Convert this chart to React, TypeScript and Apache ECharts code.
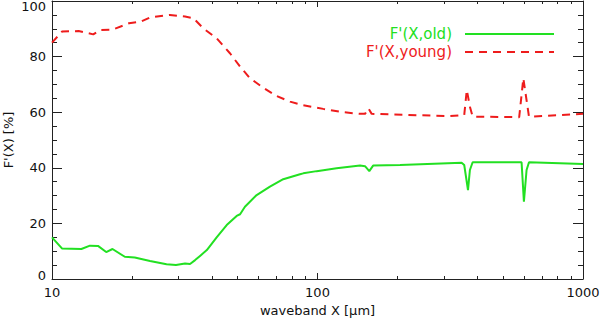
import React, { useEffect, useRef } from "react";
import * as echarts from "echarts";

const oldX = [10, 10.9, 12.9, 13.9, 14.9, 16.0, 16.9, 18.8, 20.5, 23.4, 27.0, 29.3, 31.7, 33.1, 34.6, 36.1, 38.3, 41.7, 45.5, 49.6, 51.1, 53.3, 59.0, 66.2, 74.3, 85.9, 88.4, 99.3, 118, 144.6, 151, 156.7, 162, 204.6, 349, 357, 368.8, 375, 384, 587, 599, 613, 626, 1000];
const oldY = [15.0, 11.0, 10.8, 12.0, 11.9, 9.7, 10.8, 8.0, 7.7, 6.5, 5.3, 5.0, 5.6, 5.4, 6.8, 8.3, 10.4, 15.0, 19.4, 22.7, 23.3, 26.0, 30.2, 33.2, 35.9, 37.7, 38.0, 38.8, 39.8, 40.8, 40.6, 38.8, 40.8, 41.0, 41.8, 41.0, 32.0, 39.2, 42.0, 42.0, 27.8, 39.2, 42.0, 41.4];

const youngX = [10, 10.9, 12.6, 14.3, 15.2, 16.9, 19.5, 21.5, 23.4, 27.8, 31.7, 34.1, 37.1, 41.7, 46.8, 51.1, 55.7, 62.5, 70.2, 78.8, 88.4, 105.1, 125, 144.6, 151, 155.4, 160, 315, 357, 365, 375, 384, 575, 596, 626, 1000];
const youngY = [85.0, 89.0, 89.2, 88.0, 89.6, 89.7, 92.0, 92.5, 94.1, 95.0, 94.4, 93.8, 90.2, 86.6, 81.2, 76.4, 72.2, 68.8, 65.8, 63.8, 62.5, 61.2, 60.0, 59.4, 59.4, 61.4, 59.4, 58.6, 59.0, 68.0, 62.0, 58.4, 58.2, 72.2, 58.4, 59.4];

const xMinorTicks = [20, 30, 40, 50, 60, 70, 80, 90, 200, 300, 400, 500, 600, 700, 800, 900];
const seriesNames = ["F'(X,old)", "F'(X,young)"];
const xTitle = "waveband X [μm]";
const yTitle = "F'(X) [%]";

const GREEN = "#22e022";
const RED = "#ee1c1c";
const AXIS = "#222222";
const FONT = "DejaVu Sans";

export default function App() {
  const ref = useRef<HTMLDivElement>(null);
  useEffect(() => {
    if (!ref.current) return;
    const chart = echarts.init(ref.current, null, { renderer: "svg" });
    const zip = (xs: number[], ys: number[]) => xs.map((x, i) => [x, ys[i]]);
    const minorLog = xMinorTicks.map((v) => Math.log10(v));
    const axisLine = { show: true, onZero: false, lineStyle: { color: AXIS, width: 1 } };
    const minorXAxis = (position: string) => ({
      type: "value",
      position,
      min: 1,
      max: 3,
      axisLine: { show: true, onZero: false, lineStyle: { color: AXIS, opacity: 0 } },
      axisLabel: { show: false },
      splitLine: { show: false },
      axisTick: { show: true, inside: true, length: 3, customValues: minorLog, lineStyle: { color: AXIS, width: 1 } },
    });
    chart.setOption({
      animation: false,
      grid: { left: 52, right: 17, top: 1, bottom: 40, containLabel: false, outerBoundsMode: "none" },
      xAxis: [
        {
          type: "log",
          logBase: 10,
          min: 10,
          max: 1000,
          position: "bottom",
          name: xTitle,
          nameLocation: "middle",
          nameGap: 24,
          nameTextStyle: { color: "#111", fontSize: 13, fontFamily: FONT },
          axisLine,
          axisTick: { show: true, inside: true, length: 6, lineStyle: { color: AXIS } },
          axisLabel: { color: "#111", fontSize: 13, fontFamily: FONT, margin: 7, formatter: (v: number) => String(Math.round(v)) },
          splitLine: { show: false },
        },
        {
          type: "log",
          logBase: 10,
          min: 10,
          max: 1000,
          position: "top",
          axisLine,
          axisTick: { show: true, inside: true, length: 6, lineStyle: { color: AXIS } },
          axisLabel: { show: false },
          splitLine: { show: false },
        },
        minorXAxis("bottom"),
        minorXAxis("top"),
      ],
      yAxis: [
        {
          type: "value",
          min: 0,
          max: 100,
          interval: 20,
          position: "left",
          name: yTitle,
          nameLocation: "middle",
          nameGap: 37,
          nameMoveOverlap: false,
          nameTextStyle: { color: "#111", fontSize: 13, fontFamily: FONT },
          axisLine,
          axisTick: { show: true, inside: true, length: 10, lineStyle: { color: AXIS } },
          minorTick: { show: true, splitNumber: 4, length: 5, lineStyle: { color: AXIS } },
          axisLabel: {
            color: "#111",
            fontSize: 13,
            fontFamily: FONT,
            margin: 6,
            formatter: (v: number) => (v === 100 ? "{t|100}" : v === 0 ? "{b|0}" : String(v)),
            rich: {
              t: { color: "#111", fontSize: 13, fontFamily: FONT, padding: [10, 0, 0, 0] },
              b: { color: "#111", fontSize: 13, fontFamily: FONT, padding: [0, 0, 8, 0] },
            },
          },
          splitLine: { show: false },
        },
        {
          type: "value",
          min: 0,
          max: 100,
          interval: 20,
          position: "right",
          axisLine,
          axisTick: { show: true, inside: true, length: 10, lineStyle: { color: AXIS } },
          minorTick: { show: true, splitNumber: 4, length: 5, lineStyle: { color: AXIS } },
          axisLabel: { show: false },
          splitLine: { show: false },
        },
      ],
      series: [
        {
          name: seriesNames[0],
          type: "line",
          xAxisIndex: 0,
          yAxisIndex: 0,
          showSymbol: false,
          symbol: "none",
          data: zip(oldX, oldY),
          lineStyle: { color: GREEN, width: 2 },
          itemStyle: { color: GREEN },
        },
        {
          name: seriesNames[1],
          type: "line",
          xAxisIndex: 0,
          yAxisIndex: 0,
          showSymbol: false,
          symbol: "none",
          data: zip(youngX, youngY),
          lineStyle: { color: RED, width: 2, type: [8, 6] },
          itemStyle: { color: RED },
        },
      ],
      graphic: [
        {
          type: "text",
          x: 452,
          y: 34,
          style: { text: seriesNames[0], fill: GREEN, fontSize: 15, fontFamily: FONT, align: "right", verticalAlign: "middle" },
        },
        {
          type: "text",
          x: 452,
          y: 52,
          style: { text: seriesNames[1], fill: RED, fontSize: 15, fontFamily: FONT, align: "right", verticalAlign: "middle" },
        },
        {
          type: "line",
          shape: { x1: 465, y1: 34, x2: 554, y2: 34 },
          style: { stroke: GREEN, lineWidth: 2 },
        },
        {
          type: "line",
          shape: { x1: 465, y1: 52, x2: 554, y2: 52 },
          style: { stroke: RED, lineWidth: 2, lineDash: [8, 6] },
        },
      ],
    });
    return () => chart.dispose();
  }, []);
  return (
    <div
      ref={ref}
      style={{ position: "absolute", left: 0, top: 0, width: 600, height: 319, background: "#fff" }}
    />
  );
}
